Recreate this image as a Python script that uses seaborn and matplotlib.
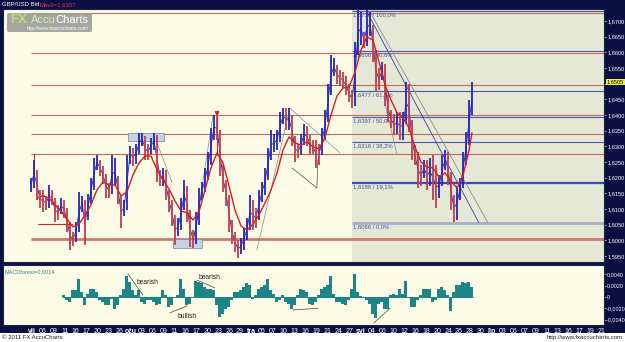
import numpy as np
import pandas as pd
import seaborn as sns
import matplotlib.pyplot as plt
from matplotlib import font_manager as fm
from matplotlib.patches import Rectangle, FancyBboxPatch

# ---- data (one bar every ~3 px) ----
highs = [1.6199, 1.6257, 1.6225, 1.6161, 1.6161, 1.6142, 1.6177, 1.6161, 1.6135, 1.6113,
         1.6135, 1.6129, 1.6103, 1.6059, 1.6027, 1.6059, 1.6155, 1.6142, 1.6129, 1.6148,
         1.6199, 1.6263, 1.6273, 1.6257, 1.6238, 1.6212, 1.6183, 1.6273, 1.6263, 1.6206,
         1.6145, 1.6129, 1.6273, 1.6301, 1.6295, 1.6307, 1.6343, 1.6343, 1.6333, 1.6307,
         1.6327, 1.6343, 1.6336, 1.6225, 1.6231, 1.6225, 1.6161, 1.6129, 1.6081, 1.6071,
         1.6135, 1.6193, 1.6174, 1.6097, 1.6033, 1.6091, 1.6167, 1.6186, 1.6231, 1.6282,
         1.6358, 1.6400, 1.6397, 1.6352, 1.6241, 1.6193, 1.6145, 1.6065, 1.6027, 1.6001,
         1.6008, 1.6040, 1.6071, 1.6145, 1.6129, 1.6103, 1.6161, 1.6186, 1.6231, 1.6295,
         1.6352, 1.6339, 1.6352, 1.6410, 1.6422, 1.6422, 1.6422, 1.6400, 1.6333, 1.6307,
         1.6339, 1.6371, 1.6365, 1.6336, 1.6320, 1.6320, 1.6307, 1.6358, 1.6416, 1.6499,
         1.6592, 1.6582, 1.6560, 1.6544, 1.6537, 1.6525, 1.6499, 1.6480, 1.6633, 1.6735,
         1.6729, 1.6665, 1.6735, 1.6729, 1.6687, 1.6607, 1.6550, 1.6569, 1.6563, 1.6464,
         1.6416, 1.6403, 1.6410, 1.6410, 1.6410, 1.6505, 1.6499, 1.6384, 1.6304, 1.6282,
         1.6241, 1.6257, 1.6257, 1.6263, 1.6273, 1.6241, 1.6209, 1.6273, 1.6288, 1.6282,
         1.6218, 1.6145, 1.6174, 1.6199, 1.6282, 1.6346, 1.6448, 1.6505]
lows = [1.6155, 1.6167, 1.6129, 1.6103, 1.6091, 1.6097, 1.6103, 1.6113, 1.6059, 1.6065,
        1.6084, 1.6071, 1.6027, 1.5969, 1.5982, 1.5995, 1.6027, 1.6091, 1.5985, 1.6065,
        1.6116, 1.6161, 1.6225, 1.6206, 1.6180, 1.6135, 1.6135, 1.6148, 1.6174, 1.6116,
        1.6040, 1.6078, 1.6097, 1.6244, 1.6238, 1.6244, 1.6276, 1.6301, 1.6257, 1.6257,
        1.6276, 1.6288, 1.6186, 1.6174, 1.6174, 1.6129, 1.6091, 1.6046, 1.5985, 1.6014,
        1.6033, 1.6097, 1.6059, 1.5979, 1.5976, 1.5989, 1.6049, 1.6129, 1.6155, 1.6193,
        1.6241, 1.6320, 1.6320, 1.6206, 1.6155, 1.6110, 1.6027, 1.5989, 1.5963, 1.5944,
        1.5957, 1.5969, 1.6001, 1.6033, 1.6033, 1.6040, 1.6065, 1.6123, 1.6145, 1.6193,
        1.6257, 1.6282, 1.6288, 1.6314, 1.6371, 1.6352, 1.6352, 1.6301, 1.6250, 1.6263,
        1.6273, 1.6304, 1.6301, 1.6276, 1.6276, 1.6231, 1.6241, 1.6273, 1.6320, 1.6378,
        1.6464, 1.6525, 1.6499, 1.6493, 1.6486, 1.6464, 1.6442, 1.6422, 1.6429, 1.6592,
        1.6623, 1.6614, 1.6620, 1.6652, 1.6569, 1.6474, 1.6480, 1.6512, 1.6429, 1.6378,
        1.6358, 1.6336, 1.6339, 1.6320, 1.6320, 1.6371, 1.6346, 1.6257, 1.6241, 1.6167,
        1.6174, 1.6199, 1.6161, 1.6174, 1.6129, 1.6103, 1.6135, 1.6174, 1.6225, 1.6177,
        1.6097, 1.6059, 1.6065, 1.6129, 1.6167, 1.6241, 1.6304, 1.6400]

# moving average, read every second bar
ma_bars = list(range(2, 147, 2)) + [147]
ma_vals = [1.6135, 1.6142, 1.6135, 1.6113, 1.6094, 1.6068, 1.6043, 1.6052, 1.6081, 1.6113,
           1.6161, 1.6186, 1.6177, 1.6177, 1.6142, 1.6155, 1.6209, 1.6247, 1.6269, 1.6269,
           1.6225, 1.6193, 1.6164, 1.6126, 1.6094, 1.6088, 1.6065, 1.6091, 1.6161, 1.6231,
           1.6279, 1.6247, 1.6174, 1.6097, 1.6046, 1.6033, 1.6052, 1.6081, 1.6119, 1.6161,
           1.6215, 1.6288, 1.6330, 1.6311, 1.6304, 1.6314, 1.6298, 1.6292, 1.6327, 1.6400,
           1.6461, 1.6486, 1.6489, 1.6537, 1.6607, 1.6649, 1.6639, 1.6569, 1.6496, 1.6448,
           1.6407, 1.6391, 1.6359, 1.6298, 1.6250, 1.6234, 1.6231, 1.6202, 1.6215, 1.6190,
           1.6167, 1.6206, 1.6288, 1.6343]

# MACD forest, starts at bar 11
macd_first = 11
macd_vals = [0.0003, -0.0006, -0.0009, 0.0012, 0.0012, 0.0032, 0.0009, -0.0015, 0.0006, 0.0015,
             0.0015, 0.0009, -0.0006, -0.0009, -0.0015, -0.0015, -0.0003, -0.0021, -0.0015, 0.0003,
             0.0015, 0.0038, 0.0027, 0.0012, 0.0003, 0.0012, -0.0009, -0.0012, -0.0006, -0.0006,
             -0.0009, -0.0015, -0.0012, 0.0012, 0.0003, -0.0018, -0.0015, 0.0000, 0.0003, 0.0032,
             0.0015, -0.0015, -0.0012, 0.0000, 0.0029, 0.0027, 0.0024, 0.0018, 0.0015, 0.0015,
             0.0012, -0.0015, -0.0035, -0.0030, -0.0021, -0.0018, -0.0006, 0.0009, 0.0009, 0.0012,
             0.0018, 0.0024, 0.0021, -0.0003, 0.0003, 0.0015, 0.0018, 0.0021, 0.0031, 0.0012,
             0.0006, -0.0009, -0.0006, 0.0003, -0.0009, -0.0012, -0.0021, -0.0015, 0.0003, 0.0015,
             0.0012, 0.0009, -0.0012, -0.0015, -0.0009, 0.0003, 0.0015, 0.0018, 0.0021, 0.0038,
             0.0006, -0.0009, -0.0009, -0.0012, -0.0015, -0.0006, 0.0015, 0.0041, 0.0009, 0.0002,
             0.0000, -0.0006, -0.0012, -0.0030, -0.0038, -0.0012, -0.0009, -0.0021, -0.0021, 0.0004,
             0.0006, 0.0004, 0.0015, 0.0006, 0.0029, 0.0000, -0.0018, -0.0018, -0.0006, 0.0003,
             0.0015, 0.0015, 0.0015, -0.0009, -0.0006, 0.0015, 0.0018, 0.0012, 0.0003, -0.0024,
             0.0009, 0.0021, 0.0021, 0.0027, 0.0024, 0.0027, 0.0018]

date_labels = ['vlj', '06', '09', '11', '16', '17', '20', '23', '26',
               'ožu', '03', '06', '09', '11', '16', '17', '20', '23', '26', '29',
               'tra', '05', '07', '10', '13', '16', '19', '21', '24', '27',
               'svi', '04', '06', '10', '12', '16', '18', '20', '24', '26', '28', '30',
               'lip', '03', '06', '07', '09', '11', '13', '16', '17', '19', '21']
months = ['vlj', 'ožu', 'tra', 'svi', 'lip']

# horizontal support/resistance and fibonacci levels
sr_levels = [1.6726, 1.6598, 1.6496, 1.6400, 1.6339, 1.6276]
sr_thick = 1.6005
fib_levels = [1.6732, 1.6604, 1.6477, 1.6394, 1.6314]
fib_thick = 1.6183
fib_zero = 1.6056
fib_texts = ['1,6736 / 100,0%', '1,6606 / 80,6%', '1,6477 / 61,8%', '1,6397 / 50,0%',
             '1,6316 / 38,2%', '1,6188 / 19,1%', '1,6066 / 0,0%']
fib_text_levels = [1.6732, 1.6604, 1.6477, 1.6394, 1.6314, 1.6183, 1.6056]
fib_start = 107

# hand drawn lines: (bar0, price0, bar1, price1)
channel_blue = (112, 1.6729, 149.3, 1.6056)
channel_gray = (113, 1.6729, 152.3, 1.6056)
gray_lines = [(40.7, 1.6343, 47.0, 1.6186), (54.0, 1.5985, 60.7, 1.6400),
              (75.3, 1.5969, 86.3, 1.6422), (86.3, 1.6422, 103.0, 1.6279),
              (118.0, 1.6438, 122.0, 1.6273)]
dark_lines = [(87.0, 1.6231, 95.3, 1.6167), (95.3, 1.6167, 95.6, 1.6257)]
red_marks = [(1.0, 1.6276, 1.0, 1.6215), (2.3, 1.6053, 13.7, 1.6053), (62.0, 1.6394, 62.0, 1.6273)]
boxes = [(32.3, 1.6317, 12.0, 0.0026), (47.3, 1.5976, 9.7, 0.0029)]
macd_lines = [(32.3, 0.0041, 37.3, 0.00035), (46.3, -0.0028, 52.0, -0.0016),
              (55.3, 0.0030, 61.3, 0.0016), (87.3, -0.0023, 95.7, -0.0020),
              (114.3, -0.0046, 119.7, -0.0020)]
macd_notes = [('bearish', 35.3, 0.0026), ('bullish', 48.7, -0.0034), ('bearish', 55.7, 0.0035)]

NAVY = '#0a0f42'
CREAM = '#fcfce6'
SHADE = '#e4e8d5'
BLUE = '#2424c0'
RED = '#c43c4c'
TEAL = '#1d8585'

sns.set_style('white')
names = {f.name for f in fm.fontManager.ttflist}
NARROW = 'Liberation Sans Narrow' if 'Liberation Sans Narrow' in names else 'Liberation Sans'
plt.rcParams['font.family'] = ['Liberation Sans', 'DejaVu Sans']

W, H = 625, 342
fig = plt.figure(figsize=(W / 100, H / 100), dpi=100, facecolor=NAVY)
ax = fig.add_axes([3 / W, 80 / H, 601 / W, 253 / H])
axm = fig.add_axes([3 / W, 17 / H, 601 / W, 60 / H], sharex=ax)
XL = (-9.33, 191.0)

# ---- price panel ----
ax.set_facecolor(CREAM)
ax.axvspan(fib_start, XL[1], color=SHADE, lw=0, zorder=0)
ax.hlines(sr_levels, 0, XL[1], color='#c46a5a', lw=0.8, zorder=1)
ax.hlines(sr_thick, 0, XL[1], color='#d07a6a', lw=2.0, zorder=1)
ax.hlines(fib_levels, fib_start, XL[1], color='#4a56b0', lw=0.8, zorder=1)
ax.hlines(fib_thick, fib_start, XL[1], color='#3a48c8', lw=1.6, zorder=1)
ax.hlines(fib_zero, fib_start, XL[1], color='#a8aec8', lw=2.0, zorder=1)
for txt, lv in zip(fib_texts, fib_text_levels):
    ax.text(fib_start + 0.4, lv - 0.0004, txt, fontsize=4.2, family=NARROW,
            color='#4050a0', va='top', ha='left', zorder=2)

for b0, p0, b1, p1 in gray_lines:
    ax.plot([b0, b1], [p0, p1], color='#8a8a8a', lw=0.5, zorder=2)
for b0, p0, b1, p1 in dark_lines:
    ax.plot([b0, b1], [p0, p1], color='#505050', lw=0.5, zorder=2)
for b0, p0, b1, p1 in red_marks:
    ax.plot([b0, b1], [p0, p1], color='#c03030', lw=0.8, zorder=2)
ax.plot(channel_blue[::2], channel_blue[1::2], color='#3840a8', lw=0.6, zorder=2)
ax.plot(channel_gray[::2], channel_gray[1::2], color='#8c8c7c', lw=0.6, zorder=2)
for b, p, w, h in boxes:
    ax.add_patch(Rectangle((b, p), w, h, facecolor='#c4d2e6', edgecolor='#8894a8',
                           lw=0.6, zorder=2))

bars = pd.DataFrame({'bar': np.arange(len(highs)), 'high': highs, 'low': lows})
bars['mid'] = (bars['high'] + bars['low']) / 2
bars['up'] = bars['mid'].diff().fillna(0) >= 0
ax.plot(bars['bar'], bars['mid'], color=BLUE, lw=0.6, zorder=3)
ax.vlines(bars['bar'], bars['low'], bars['high'],
          colors=np.where(bars['up'], BLUE, RED), lw=1.3, zorder=3)

ma = pd.DataFrame({'bar': ma_bars, 'ma': ma_vals})
sns.lineplot(data=ma, x='bar', y='ma', ax=ax, color='#d81e1e', lw=1.0, zorder=4)
ax.annotate('', xy=(62, 1.6386), xytext=(62, 1.6418),
            arrowprops=dict(arrowstyle='-|>', color='#e02020', lw=1.3, mutation_scale=5),
            zorder=5)

ax.set_xlim(*XL)
ax.set_ylim(1.5931, 1.6738)
ticks = np.round(np.arange(1.5950, 1.67001, 0.005), 4)
ax.yaxis.tick_right()
ax.set_yticks(ticks, ['' if abs(t - 1.65) < 1e-6 else f'{t:.4f}'.replace('.', ',') for t in ticks])
ax.tick_params(axis='y', colors='white', labelsize=4.1, length=1.5, width=0.5, pad=0.8)
for lbl in ax.get_yticklabels():
    lbl.set_family(NARROW)
ax.tick_params(axis='x', bottom=False, labelbottom=False)
ax.set_xlabel('')
ax.set_ylabel('')
for s in ax.spines.values():
    s.set_color('#20244a')
    s.set_linewidth(0.8)
ax.text(1.0045, 1.6505, '1,6505', transform=ax.get_yaxis_transform(), fontsize=4.1,
        family=NARROW, color='black', va='center', ha='left',
        bbox=dict(boxstyle='square,pad=0.12', fc='#f4f040', ec='none'), clip_on=False)

# ---- MACD panel ----
axm.set_facecolor(CREAM)
axm.bar(np.arange(macd_first, macd_first + len(macd_vals)), macd_vals, width=1.0,
        color=TEAL, lw=0, zorder=2)
axm.hlines(0, macd_first - 0.5, macd_first + len(macd_vals) - 0.5, color=TEAL, lw=0.7, zorder=2)
for b0, v0, b1, v1 in macd_lines:
    axm.plot([b0, b1], [v0, v1], color='#404040', lw=0.5, zorder=3)
for txt, b, v in macd_notes:
    axm.text(b, v, txt, fontsize=4.8, color='#202020', va='center', ha='left', zorder=3)
axm.text(0.002, 0.93, 'MACDforest=0,0014', transform=axm.transAxes, fontsize=4.0,
         family=NARROW, color='#2a8a8a', va='top', ha='left')
axm.set_ylim(-0.00496, 0.00566)
axm.yaxis.tick_right()
mt = [0.004, 0.002, 0.0, -0.002, -0.004]
axm.set_yticks(mt, ['0,0040', '0,0020', '0', '-0,0020', '-0,0040'])
axm.tick_params(axis='y', colors='white', labelsize=3.9, length=1.5, width=0.5, pad=0.6)
for lbl in axm.get_yticklabels():
    lbl.set_family(NARROW)
pos = 0.333 + 3.65 * np.arange(len(date_labels))
axm.set_xticks(pos, date_labels)
axm.tick_params(axis='x', colors='white', labelsize=5, length=0, pad=2)
for lbl in axm.get_xticklabels():
    lbl.set_family(NARROW)
    if lbl.get_text() in months:
        lbl.set_fontweight('bold')
axm.set_xlim(*XL)
axm.set_xlabel('')
for s in axm.spines.values():
    s.set_color('#20244a')
    s.set_linewidth(0.8)

# ---- frame texts ----
fig.text(2 / W, 1 - 4.5 / H, 'GBP/USD Bid', fontsize=4.3, family=NARROW, color='white', va='center')
fig.text(40 / W, 1 - 4.5 / H, 'Mav9=1,6357', fontsize=4.3, family=NARROW, color='#e03050', va='center')
fig.patches.append(Rectangle((0, 0), 1, 9 / H, transform=fig.transFigure, fc='white', ec='none'))
fig.text(2 / W, 4.5 / H, '© 2011 FX AccuCharts', fontsize=4.3, color='#202020', va='center')
fig.text(623 / W, 4 / H, 'http://www.fxaccucharts.com', fontsize=4.3, color='#202020',
         va='center', ha='right')
fig.patches.append(FancyBboxPatch((7 / W, 1 - 32 / H), 85 / W, 19 / H, transform=fig.transFigure,
                                  boxstyle='round,pad=0,rounding_size=0.004',
                                  fc='#9c9c9a', ec='none', alpha=0.9, zorder=10))
fig.text(10 / W, 1 - 20 / H, 'FX', fontsize=9.5, fontweight='bold', color='#b6e070',
         va='center', zorder=11)
fig.text(31 / W, 1 - 20 / H, 'Accu', fontsize=8, color='#d4ecb0', va='center', zorder=11)
fig.text(55 / W, 1 - 20 / H, 'Charts', fontsize=8, color='white', va='center', zorder=11)
fig.text(27 / W, 1 - 28.5 / H, 'http://www.fxaccucharts.com/', fontsize=3.4, color='white',
         va='center', zorder=11)

fig.savefig('out.png', dpi=100, facecolor=NAVY)
